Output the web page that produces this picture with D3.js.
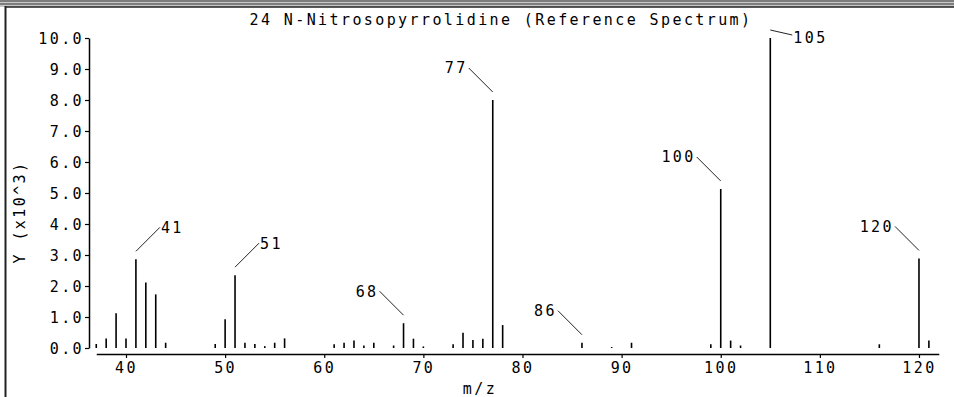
<!DOCTYPE html>
<html>
<head>
<meta charset="utf-8">
<script src="https://cdn.jsdelivr.net/npm/d3@7"></script>
<style>
  html, body { margin: 0; padding: 0; background: #fff; }
  svg { display: block; }
  text { font-family: "DejaVu Sans Mono", "Liberation Mono", monospace; font-size: 15px; letter-spacing: 2.4px; fill: #000; }
</style>
</head>
<body>
<script>
// ---- data ----
const title = "24 N-Nitrosopyrrolidine (Reference Spectrum)";
const xLabel = "m/z";
const yLabel = "Y (x10^3)";
const mz = [37,38,39,40,41,42,43,44,49,50,51,52,53,54,55,56,61,62,63,64,65,67,68,69,70,73,74,75,76,77,78,86,89,91,99,100,101,102,105,116,120,121];
const intensity = [0.13,0.31,1.12,0.31,2.86,2.11,1.73,0.17,0.13,0.93,2.35,0.17,0.13,0.06,0.17,0.31,0.12,0.17,0.24,0.08,0.17,0.08,0.80,0.30,0.05,0.12,0.49,0.26,0.30,8.00,0.74,0.17,0.03,0.17,0.12,5.13,0.24,0.08,10.00,0.12,2.89,0.24];
const labelMz = [41,51,68,77,86,100,105,120];
const labelSide = ["right","right","left","left","left","left","right","left"];
const xTicks = [40,50,60,70,80,90,100,110,120];
const yTicks = [0,1,2,3,4,5,6,7,8,9,10];

// ---- drawing ----
const W = 954, H = 397;
const svg = d3.select("body").append("svg").attr("width", W).attr("height", H);

// frame remnants
svg.append("rect").attr("x",0).attr("y",0).attr("width",W).attr("height",7).attr("fill","#c8c8c8");
svg.append("line").attr("x1",0).attr("x2",W).attr("y1",1).attr("y2",1).attr("stroke","#333");
svg.append("line").attr("x1",0).attr("x2",W).attr("y1",4).attr("y2",4).attr("stroke","#333");
svg.append("rect").attr("x",5).attr("y",7).attr("width",W-5).attr("height",H-7).attr("fill","#fff");
svg.append("line").attr("x1",5).attr("x2",W).attr("y1",7).attr("y2",7).attr("stroke","#222").attr("stroke-width",1.5);
svg.append("line").attr("x1",5.5).attr("x2",5.5).attr("y1",6).attr("y2",H).attr("stroke","#222").attr("stroke-width",2);

const x = d3.scaleLinear().domain([37,122]).range([96.26, 938.8]);
const y = d3.scaleLinear().domain([0,10]).range([348, 38]);

// axes
const xAxis = svg.append("g").attr("transform","translate(0,354)")
  .call(d3.axisBottom(x).tickValues(xTicks).tickSize(4).tickSizeOuter(0).tickFormat(d3.format("d")));
const yAxis = svg.append("g").attr("transform","translate(89,0)")
  .call(d3.axisLeft(y).tickValues(yTicks).tickSize(4).tickSizeOuter(0).tickFormat(d3.format(".1f")));
[xAxis, yAxis].forEach(g => {
  g.selectAll("path.domain").attr("stroke","#000").attr("stroke-width",1.5);
  g.selectAll(".tick line").attr("stroke","#000").attr("stroke-width",1.2);
  g.selectAll(".tick text").attr("fill","#000").style("font-size","15px")
    .style("font-family","'DejaVu Sans Mono', monospace");
});
xAxis.selectAll(".tick text").attr("y", 8);
yAxis.selectAll(".tick text").attr("x", -5).attr("dy","0.36em");

// peaks
svg.append("g").selectAll("line").data(mz).join("line")
  .attr("x1", d => x(d)).attr("x2", d => x(d))
  .attr("y1", y(0)).attr("y2", (d,i) => y(intensity[i]))
  .attr("stroke","#000").attr("stroke-width",1.6);

// annotations
const ann = svg.append("g");
labelMz.forEach((m, k) => {
  const v = intensity[mz.indexOf(m)];
  const px = x(m), top = y(v);
  const sy = top - 8;
  let ey = sy - 24, dir = labelSide[k] === "right" ? 1 : -1, ex = px + dir*24;
  let ty = ey;
  if (ey < 30) { ey = sy + 5; ex = px + 22; dir = 1; ty = ey + 3; }
  ann.append("line").attr("x1",px).attr("y1",sy).attr("x2",ex).attr("y2",ey)
    .attr("stroke","#222").attr("stroke-width",1);
  ann.append("text").attr("x", ex + dir*1).attr("y", ty).attr("dy","0.36em")
    .attr("text-anchor", dir > 0 ? "start" : "end").text(m);
});

// titles
svg.append("text").attr("x",501).attr("y",25).attr("text-anchor","middle").text(title);
svg.append("text").attr("x",480).attr("y",394).attr("text-anchor","middle").text(xLabel);
svg.append("text").attr("transform","translate(25,212) rotate(-90)").attr("text-anchor","middle").text(yLabel);
</script>
</body>
</html>
